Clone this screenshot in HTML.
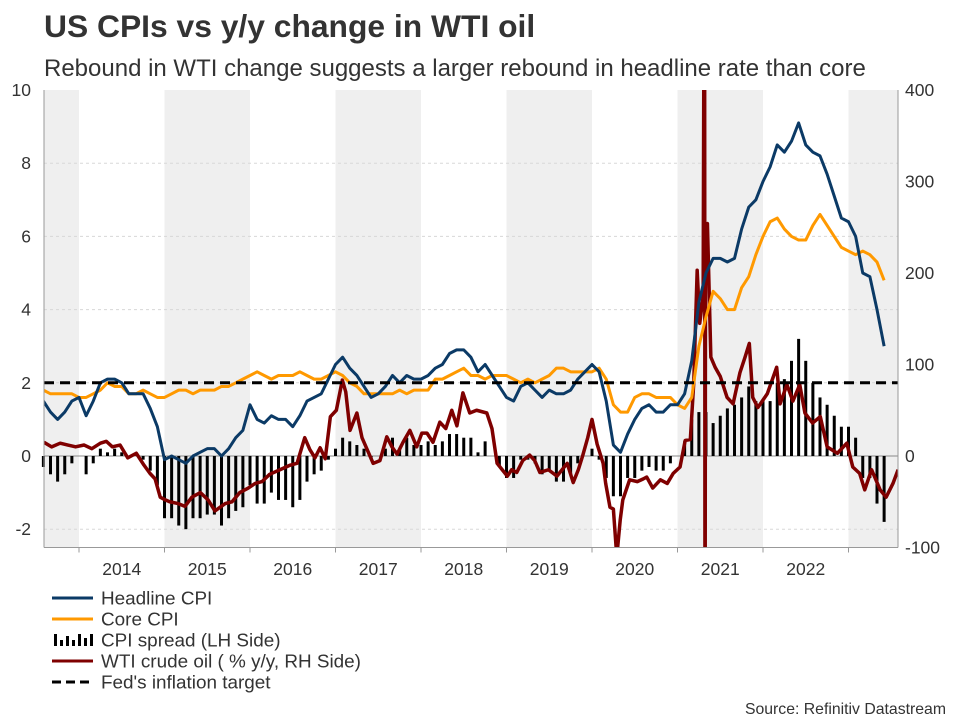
<!DOCTYPE html>
<html><head><meta charset="utf-8">
<style>
body{margin:0;background:#fff;width:960px;height:720px;overflow:hidden;font-family:"Liberation Sans",Arial,sans-serif;}
svg text{font-family:"Liberation Sans",Arial,sans-serif;}
</style></head>
<body>
<svg id="chart" width="960" height="720" viewBox="0 0 960 720">
<text x="44" y="37" font-size="31.8" font-weight="bold" fill="#333">US CPIs vs y/y change in WTI oil</text>
<text x="44" y="76" font-size="24" fill="#333">Rebound in WTI change suggests a larger rebound in headline rate than core</text>
<g id="bands"></g><g id="grid"></g><g id="bars"></g><g id="lines"></g><g id="axes"></g>
<g>
<line x1="52" y1="598" x2="93" y2="598" stroke="#0b3a66" stroke-width="3"/>
<text x="101" y="604.5" font-size="18.9" fill="#333">Headline CPI</text>
<line x1="52" y1="619" x2="93" y2="619" stroke="#ff9900" stroke-width="3"/>
<text x="101" y="625.5" font-size="18.9" fill="#333">Core CPI</text>
<g fill="#000">
<rect x="54" y="634" width="3" height="12"/><rect x="60" y="640" width="3" height="6"/><rect x="66" y="636" width="3" height="10"/><rect x="72" y="640" width="3" height="6"/><rect x="78" y="634" width="3" height="12"/><rect x="84" y="638" width="3" height="8"/><rect x="90" y="634" width="3" height="12"/></g>
<text x="101" y="646.5" font-size="18.9" fill="#333">CPI spread (LH Side)</text>
<line x1="52" y1="661" x2="93" y2="661" stroke="#7f0000" stroke-width="3"/>
<text x="101" y="667.5" font-size="18.9" fill="#333">WTI crude oil ( % y/y, RH Side)</text>
<line x1="52" y1="682" x2="93" y2="682" stroke="#000" stroke-width="3" stroke-dasharray="9,5"/>
<text x="101" y="688.5" font-size="18.9" fill="#333">Fed's inflation target</text>
</g>
<text x="946" y="714" font-size="15.8" fill="#333" text-anchor="end">Source: Refinitiv Datastream</text>
</svg>
<script>
const startYear = 2013 + 7/12; // Aug 2013, monthly CPI data
const headline = [1.5,1.2,1.0,1.2,1.5,
1.6,1.1,1.5,2.0,2.1,2.1,2.0,1.7,1.7,1.7,1.3,0.8,
-0.1,0.0,-0.1,-0.2,0.0,0.1,0.2,0.2,0.0,0.2,0.5,0.7,
1.4,1.0,0.9,1.1,1.0,1.0,0.8,1.1,1.5,1.6,1.7,2.1,
2.5,2.7,2.4,2.2,1.9,1.6,1.7,1.9,2.2,2.0,2.2,2.1,
2.1,2.2,2.4,2.5,2.8,2.9,2.9,2.7,2.3,2.5,2.2,1.9,
1.6,1.5,1.9,2.0,1.8,1.6,1.8,1.7,1.7,1.8,2.1,2.3,
2.5,2.3,1.5,0.3,0.1,0.6,1.0,1.3,1.4,1.2,1.2,1.4,
1.4,1.7,2.6,4.2,5.0,5.4,5.4,5.3,5.4,6.2,6.8,7.0,
7.5,7.9,8.5,8.3,8.6,9.1,8.5,8.3,8.2,7.7,7.1,6.5,
6.4,6.0,5.0,4.9,4.0,3.0];
const core = [1.8,1.7,1.7,1.7,1.7,
1.6,1.6,1.7,1.8,2.0,1.9,1.9,1.7,1.7,1.8,1.7,1.6,
1.6,1.7,1.8,1.8,1.7,1.8,1.8,1.8,1.9,1.9,2.0,2.1,
2.2,2.3,2.2,2.1,2.2,2.2,2.2,2.3,2.2,2.1,2.1,2.2,
2.3,2.2,2.0,1.9,1.7,1.7,1.7,1.7,1.7,1.8,1.7,1.8,
1.8,1.8,2.1,2.1,2.2,2.3,2.4,2.2,2.2,2.1,2.2,2.2,
2.2,2.1,2.0,2.1,2.0,2.1,2.2,2.4,2.4,2.3,2.3,2.3,
2.3,2.4,2.1,1.4,1.2,1.2,1.6,1.7,1.7,1.6,1.6,1.6,
1.4,1.3,1.6,3.0,3.8,4.5,4.3,4.0,4.0,4.6,4.9,5.5,
6.0,6.4,6.5,6.2,6.0,5.9,5.9,6.3,6.6,6.3,6.0,5.7,
5.6,5.5,5.6,5.5,5.3,4.8];
const spread = [-0.3,-0.5,-0.7,-0.5,-0.2,
0.0,-0.5,-0.2,0.2,0.1,0.2,0.1,0.0,0.0,-0.1,-0.4,-0.8,
-1.7,-1.7,-1.9,-2.0,-1.7,-1.7,-1.6,-1.6,-1.9,-1.7,-1.5,-1.4,
-0.8,-1.3,-1.3,-1.0,-1.2,-1.2,-1.4,-1.2,-0.7,-0.5,-0.4,-0.1,
0.2,0.5,0.4,0.3,0.2,-0.1,0.0,0.2,0.5,0.2,0.5,0.3,
0.3,0.4,0.3,0.4,0.6,0.6,0.5,0.5,0.1,0.4,0.0,-0.3,
-0.6,-0.6,-0.1,-0.1,-0.2,-0.5,-0.4,-0.7,-0.7,-0.5,-0.2,0.0,
0.2,-0.1,-0.6,-1.1,-1.1,-0.6,-0.6,-0.4,-0.3,-0.4,-0.4,-0.2,
0.0,0.4,1.0,1.2,1.2,0.9,1.1,1.3,1.4,1.6,1.9,1.5,
1.5,1.5,2.0,2.1,2.6,3.2,2.6,2.0,1.6,1.4,1.1,0.8,
0.8,0.5,-0.6,-0.6,-1.3,-1.8];
const wtiDates = [2013.59,2013.68,2013.78,2013.87,2013.96,2014.06,2014.15,2014.25,2014.32,2014.39,2014.48,2014.57,2014.67,2014.76,2014.83,2014.89,2014.95,
2015.01,2015.06,2015.16,2015.24,2015.32,2015.42,2015.51,2015.59,2015.71,2015.79,2015.88,2015.98,
2016.06,2016.14,2016.23,2016.35,2016.47,2016.55,2016.64,2016.70,2016.76,2016.82,2016.88,2016.94,
2017.01,2017.08,2017.12,2017.17,2017.25,2017.31,2017.38,2017.44,2017.52,2017.60,2017.66,2017.72,2017.79,2017.87,2017.95,
2018.01,2018.07,2018.14,2018.22,2018.29,2018.36,2018.42,2018.49,2018.57,2018.65,2018.77,2018.83,2018.89,2018.95,
2019.01,2019.06,2019.12,2019.19,2019.27,2019.33,2019.39,2019.49,2019.59,2019.65,2019.71,2019.78,2019.84,2019.89,2019.95,
2020.00,2020.06,2020.13,2020.16,2020.21,2020.25,2020.29,2020.33,2020.36,2020.44,2020.53,2020.60,2020.64,2020.71,2020.80,2020.88,2020.95,
2021.03,2021.09,2021.15,2021.19,2021.23,2021.26,2021.30,2021.316,2021.322,2021.328,2021.35,2021.39,2021.44,2021.50,2021.58,2021.65,2021.73,2021.79,2021.84,2021.88,2021.94,
2022.05,2022.16,2022.20,2022.28,2022.35,2022.43,2022.49,2022.58,2022.67,2022.75,2022.87,2022.98,
2023.05,2023.13,2023.19,2023.27,2023.37,2023.44,2023.52,2023.58];
const wtiValues = [15,10,14,12,10,12,8,14,16,10,12,-2,3,-10,-19,-25,-45,
-48,-50,-52,-55,-45,-40,-48,-60,-52,-50,-40,-35,
-30,-28,-20,-15,-10,-8,20,7,-2,9,-3,43,
50,83,70,28,47,20,5,-8,-5,21,10,2,15,28,10,
25,25,15,37,30,50,33,69,47,50,47,30,-8,-15,
-22,-15,-18,-5,1,-5,-18,-15,-22,-15,-8,-29,-15,0,20,
40,13,-8,-30,-56,-58,-110,-70,-48,-26,-28,-25,-23,-35,-26,-30,-19,
-12,17,18,80,203,145,175,700,-300,250,254,108,97,87,64,57,91,108,123,64,53,
68,97,57,78,60,78,47,36,43,10,3,14,
-12,-19,-37,-15,-37,-45,-30,-15];
const fedTarget = 2;
const leftTicks = [-2,0,2,4,6,8,10];
const rightTicks = [-100,0,100,200,300,400];
const yearLabels = [2014,2015,2016,2017,2018,2019,2020,2021,2022];

const NS='http://www.w3.org/2000/svg';
const X0=44, X1=898, YT=90, YB=547.5;
const xT = t => 79 + (t-2014)*85.5;
const yL = v => 456 - v*36.6;
const yR = v => 456 - v*0.915;
const xM = i => xT(startYear + i/12);
function mk(tag, attrs, parent){const e=document.createElementNS(NS,tag);for(const k in attrs)e.setAttribute(k,attrs[k]);parent.appendChild(e);return e;}
const bands=document.getElementById('bands'), grid=document.getElementById('grid'), bars=document.getElementById('bars'), lines=document.getElementById('lines'), axes=document.getElementById('axes');

const defs=mk('defs',{},document.getElementById('chart'));
const cp=mk('clipPath',{id:'plotclip'},defs);
mk('rect',{x:X0,y:YT,width:X1-X0,height:YB-YT},cp);

for(let y=2013;y<=2023;y+=2){
  const a=Math.max(X0,xT(y)), b=Math.min(X1,xT(y+1));
  const r=mk('rect',{x:a,y:YT,width:b-a,height:YB-YT,fill:'#efefef'},bands);
  
  
}
leftTicks.forEach(v=>{
  if(v!==0 && v!==10){
    const l=mk('line',{x1:X0,x2:X1,y1:yL(v),y2:yL(v),stroke:'#d8d8d8','stroke-width':1,'stroke-dasharray':'3,3'},grid);
    
    
  }
  const t=mk('text',{x:31,y:yL(v)+6,'font-size':17.5,fill:'#333','text-anchor':'end'},axes);
  t.textContent=v;
  
  
});
rightTicks.forEach(v=>{
  const t=mk('text',{x:905,y:yR(v)+6,'font-size':17.5,fill:'#333'},axes);
  t.textContent=v;
  
  
});
const zl=mk('line',{x1:X0,x2:X1,y1:yL(0),y2:yL(0),stroke:'#888','stroke-width':1},grid);



spread.forEach((v,i)=>{
  const y0=yL(0), y1=yL(v);
  const r=mk('rect',{x:xM(i)-1.5,y:Math.min(y0,y1),width:3,height:Math.abs(y1-y0),fill:'#000'},bars);
  
  
});

function path(xs, ys, color, w, name){
  const d=xs.map((x,i)=>(i?'L':'M')+x.toFixed(2)+','+ys[i].toFixed(2)).join('');
  const p=mk('path',{d:d,fill:'none',stroke:color,'stroke-width':w,'stroke-linejoin':'round','clip-path':'url(#plotclip)'},lines);
  
  
}
path(wtiDates.map(xT), wtiValues.map(yR), '#7f0000', 3.5, 'wti-line');
path(core.map((v,i)=>xM(i)), core.map(yL), '#ff9900', 3, 'core-cpi-line');
path(headline.map((v,i)=>xM(i)), headline.map(yL), '#0b3a66', 3, 'headline-cpi-line');
const fl=mk('line',{x1:X0,x2:X1,y1:yL(fedTarget),y2:yL(fedTarget),stroke:'#000','stroke-width':3,'stroke-dasharray':'10,6'},lines);



const al=mk('line',{x1:X0,x2:X0,y1:YT,y2:YB,stroke:'#999','stroke-width':1},axes);


const ar=mk('line',{x1:X1,x2:X1,y1:YT,y2:YB,stroke:'#999','stroke-width':1},axes);


const ab=mk('line',{x1:X0,x2:X1,y1:YB,y2:YB,stroke:'#999','stroke-width':1},axes);


for(let y=2014;y<=2023;y++){
  const tk=mk('line',{x1:xT(y),x2:xT(y),y1:YB,y2:YB+5,stroke:'#999'},axes);
  
  
}
yearLabels.forEach(y=>{
  const t=mk('text',{x:xT(y+0.5),y:575,'font-size':17.5,fill:'#333','text-anchor':'middle'},axes);
  t.textContent=y;
  
  
});
</script>
</body></html>
